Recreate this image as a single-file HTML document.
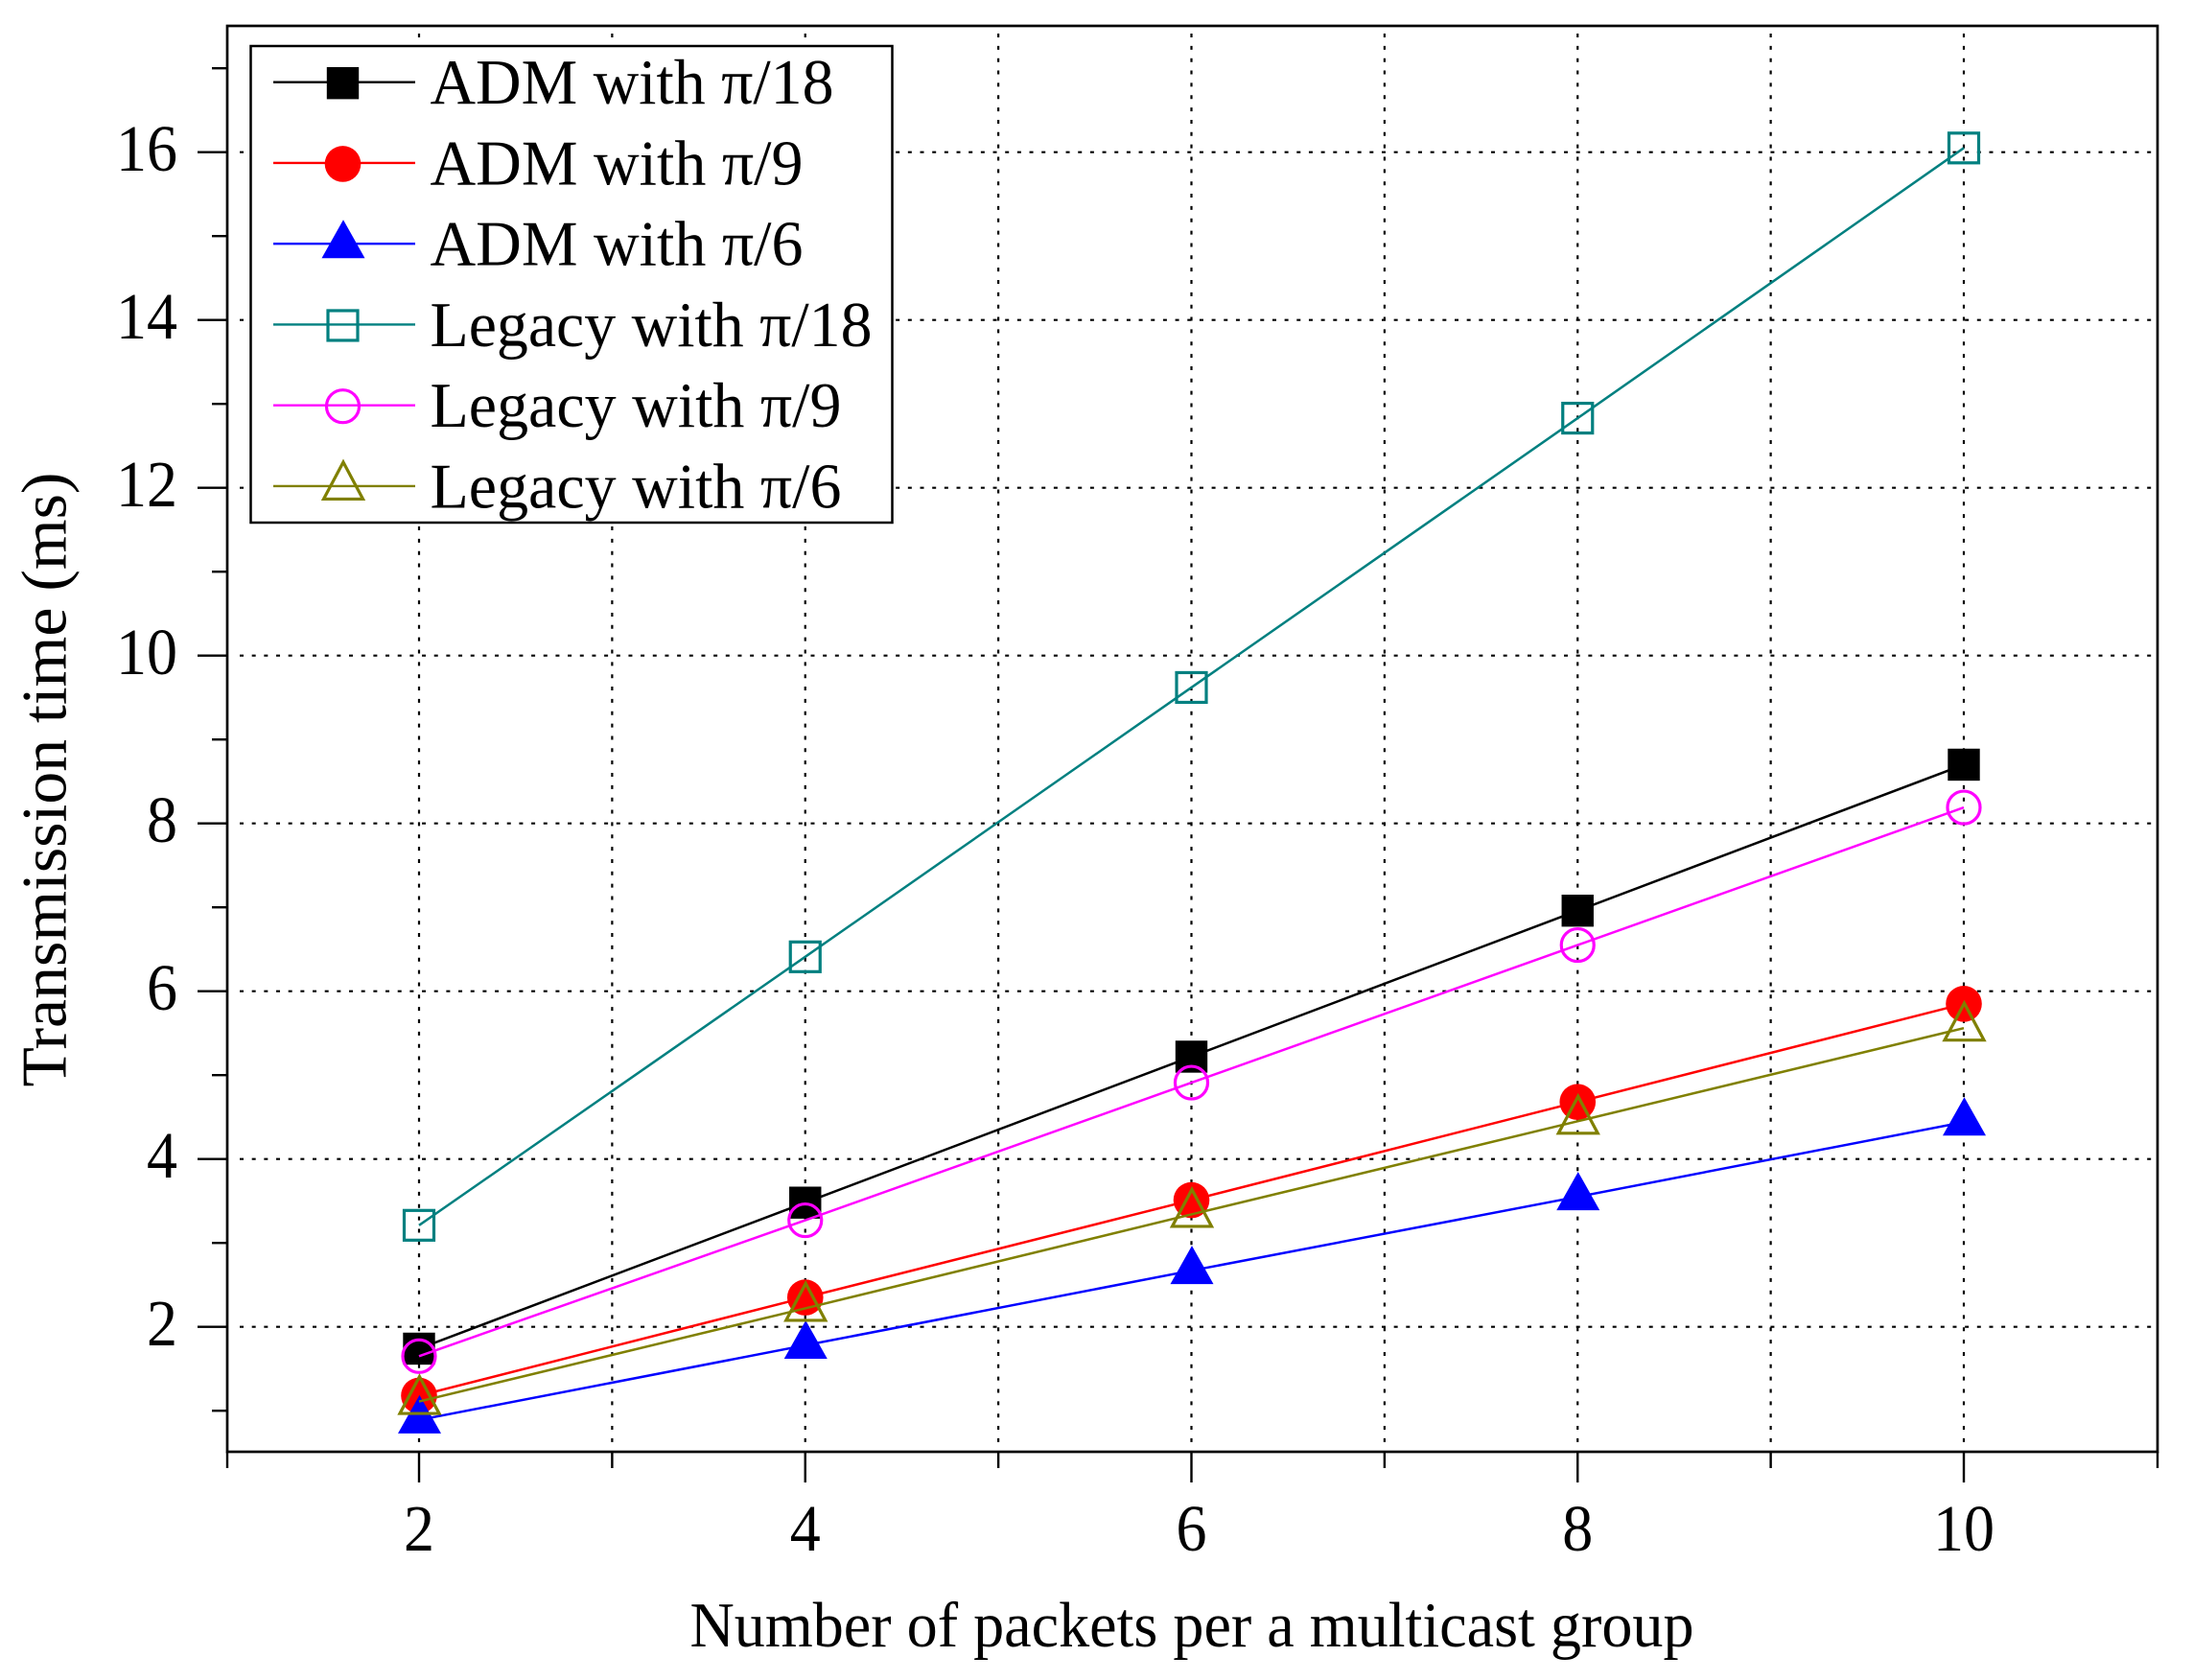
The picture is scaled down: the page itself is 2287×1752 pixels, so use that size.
<!DOCTYPE html>
<html lang="en">
<head>
<meta charset="utf-8">
<title>Transmission time chart</title>
<style>
html,body{margin:0;padding:0;background:#fff;}
svg{display:block;}
text{font-family:"Liberation Serif","DejaVu Serif",serif;fill:#000;}
</style>
</head>
<body>
<svg id="chart" xmlns="http://www.w3.org/2000/svg" width="2287" height="1752" viewBox="0 0 2287 1752">
  <rect x="0" y="0" width="2287" height="1752" fill="#fff"/>
  <g id="grid"></g>
  <g id="series"></g>
  <rect x="237" y="27" width="2013" height="1487" fill="none" stroke="#000" stroke-width="2.7"/>
  <g id="ticks"></g>
  <text x="1243" y="1717" font-size="67" text-anchor="middle" textLength="1047" lengthAdjust="spacingAndGlyphs">Number of packets per a multicast group</text>
  <text transform="translate(68.5,813) rotate(-90)" font-size="67" text-anchor="middle" textLength="641" lengthAdjust="spacingAndGlyphs">Transmission time (ms)</text>
  <g id="legend">
    <rect x="261.5" y="48" width="669" height="497" fill="#fff" stroke="#000" stroke-width="2.5"/>
  </g>
</svg>
<script>
var categories = [2, 4, 6, 8, 10];
var admPi18 = [1.74, 3.48, 5.22, 6.96, 8.70];
var admPi9 = [1.18, 2.35, 3.51, 4.68, 5.85];
var admPi6 = [0.89, 1.78, 2.67, 3.55, 4.44];
var legacyPi18 = [3.21, 6.41, 9.62, 12.83, 16.05];
var legacyPi9 = [1.65, 3.27, 4.91, 6.55, 8.19];
var legacyPi6 = [1.11, 2.22, 3.34, 4.45, 5.56];
var seriesLabels = ['ADM with π/18', 'ADM with π/9', 'ADM with π/6', 'Legacy with π/18', 'Legacy with π/9', 'Legacy with π/6'];
var seriesKeys = ['adm-pi-18', 'adm-pi-9', 'adm-pi-6', 'legacy-pi-18', 'legacy-pi-9', 'legacy-pi-6'];
var seriesColors = ['#000000', '#ff0000', '#0000ff', '#008080', '#ff00ff', '#808000'];
var seriesMarkers = ['square', 'circle', 'triangle', 'square-open', 'circle-open', 'triangle-open'];
var seriesValues = [admPi18, admPi9, admPi6, legacyPi18, legacyPi9, legacyPi6];
var xMajorTicks = [2, 4, 6, 8, 10];
var xMinorTicks = [1, 3, 5, 7, 9, 11];
var xGridValues = [2, 3, 4, 5, 6, 7, 8, 9, 10];
var yMajorTicks = [2, 4, 6, 8, 10, 12, 14, 16];
var yMinorTicks = [1, 3, 5, 7, 9, 11, 13, 15, 17];

var NS = 'http://www.w3.org/2000/svg';
function xPos(v) { return 437 + (v - 2) * 201.375; }
function yPos(v) { return 1383.7 - (v - 2) * 87.5; }
function make(tag, parent, attrs) {
  var el = document.createElementNS(NS, tag);
  for (var k in attrs) { el.setAttribute(k, attrs[k]); }
  parent.appendChild(el);
  return el;
}

function drawMarker(parent, kind, color, cx, cy) {
  var el;
  var open = kind.indexOf('open') >= 0;
  var fill = open ? 'none' : color;
  var stroke = open ? color : 'none';
  var sw = open ? 3.2 : 0;
  if (kind.indexOf('square') === 0) {
    var s = open ? 15.5 : 16.7;
    el = make('rect', parent, { x: cx - s, y: cy - s, width: 2 * s, height: 2 * s, fill: fill, stroke: stroke, 'stroke-width': sw });
  } else if (kind.indexOf('circle') === 0) {
    el = make('circle', parent, { cx: cx, cy: cy, r: open ? 17 : 18.8, fill: fill, stroke: stroke, 'stroke-width': sw });
  } else {
    var top = cy - 26;
    var bot = open ? cy + 12.5 : cy + 14;
    var hw = open ? 20.5 : 22.5;
    el = make('polygon', parent, { points: (cx + 0.5) + ',' + top + ' ' + (cx + 0.5 + hw) + ',' + bot + ' ' + (cx + 0.5 - hw) + ',' + bot, fill: fill, stroke: stroke, 'stroke-width': sw });
  }
  return el;
}

var gridLayer = document.getElementById('grid');
var seriesLayer = document.getElementById('series');
var tickLayer = document.getElementById('ticks');
var legendLayer = document.getElementById('legend');

xGridValues.forEach(function (v) {
  var line = make('line', gridLayer, { x1: xPos(v), x2: xPos(v), y1: 35, y2: 1506, stroke: '#000', 'stroke-width': 2.2, 'stroke-dasharray': '4 8.85' });
  
  
});
yMajorTicks.forEach(function (v) {
  var line = make('line', gridLayer, { x1: 250, x2: 2248, y1: yPos(v), y2: yPos(v), stroke: '#000', 'stroke-width': 2.2, 'stroke-dasharray': '4 8.67' });
  
  
});

seriesValues.forEach(function (values, i) {
  var group = make('g', seriesLayer, {});
  
  
  var pts = categories.map(function (c, j) { return xPos(c) + ',' + yPos(values[j]); }).join(' ');
  var path = make('polyline', group, { points: pts, fill: 'none', stroke: seriesColors[i], 'stroke-width': 2.5 });
  
  
  categories.forEach(function (c, j) {
    var m = drawMarker(group, seriesMarkers[i], seriesColors[i], xPos(c), yPos(values[j]));
    
    
  });
});

xMajorTicks.forEach(function (v) {
  var t = make('line', tickLayer, { x1: xPos(v), x2: xPos(v), y1: 1514, y2: 1546, stroke: '#000', 'stroke-width': 2.4 });
  
  
  var l = make('text', tickLayer, { x: xPos(v), y: 1617, 'font-size': 69, 'text-anchor': 'middle', textLength: String(v).length * 32, lengthAdjust: 'spacingAndGlyphs' });
  l.textContent = String(v);
  
  
});
xMinorTicks.forEach(function (v) {
  var px = v === 1 ? 237 : v === 11 ? 2250 : xPos(v);
  var t = make('line', tickLayer, { x1: px, x2: px, y1: 1514, y2: 1531, stroke: '#000', 'stroke-width': 2.4 });
  
  
});
yMajorTicks.forEach(function (v) {
  var t = make('line', tickLayer, { x1: 206, x2: 237, y1: yPos(v), y2: yPos(v), stroke: '#000', 'stroke-width': 2.4 });
  
  
  var l = make('text', tickLayer, { x: 185, y: yPos(v) + 19.5, 'font-size': 69, 'text-anchor': 'end', textLength: String(v).length * 32, lengthAdjust: 'spacingAndGlyphs' });
  l.textContent = String(v);
  
  
});
yMinorTicks.forEach(function (v) {
  var t = make('line', tickLayer, { x1: 221, x2: 237, y1: yPos(v), y2: yPos(v), stroke: '#000', 'stroke-width': 2.4 });
  
  
});

var legendWidths = [421, 389, 389, 461, 429, 429];
seriesLabels.forEach(function (label, i) {
  var rowY = 85.7 + i * 84.25;
  var row = make('g', legendLayer, {});
  
  
  make('line', row, { x1: 285, x2: 433, y1: rowY, y2: rowY, stroke: seriesColors[i], 'stroke-width': 2.4 });
  drawMarker(row, seriesMarkers[i], seriesColors[i], 357.5, rowY + 1);
  var t = make('text', row, { x: 448.5, y: rowY + 22.5, 'font-size': 67, textLength: legendWidths[i], lengthAdjust: 'spacingAndGlyphs' });
  t.textContent = label;
  
  
});
</script>
</body>
</html>
